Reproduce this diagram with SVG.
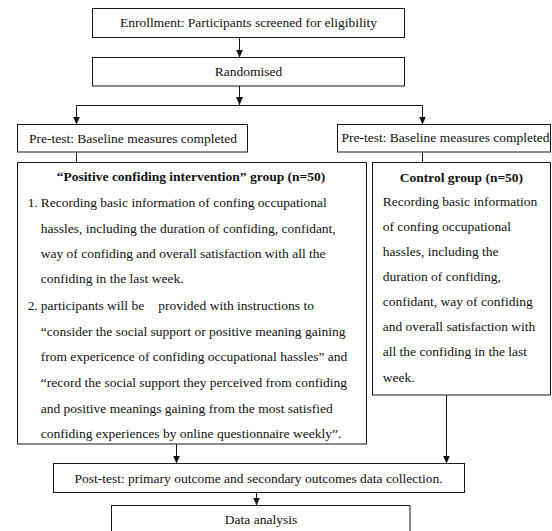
<svg xmlns="http://www.w3.org/2000/svg" width="552" height="531" viewBox="0 0 552 531">
  <style>
    .box { fill: #ffffff; stroke: #1a1a1a; stroke-width: 1; }
    .t { font-family: "Liberation Serif", "Times New Roman", serif; font-size: 13.5px; fill: #111111; }
    .b { font-weight: bold; }
    .c { text-anchor: middle; }
    .conn { fill: none; stroke: #1a1a1a; stroke-width: 1; }
  </style>
  <defs>
    <marker id="arrow" markerUnits="userSpaceOnUse" markerWidth="8" markerHeight="8" refX="8" refY="3.5" orient="auto">
      <path d="M0,0 L8,3.5 L0,7 z" fill="#111111"/>
    </marker>
  </defs>
  <rect width="552" height="531" fill="#ffffff"/>

  <g id="connectors">
    <line class="conn" x1="239.5" y1="37.5" x2="239.5" y2="57.5" marker-end="url(#arrow)"/>
    <line class="conn" x1="239.5" y1="86" x2="239.5" y2="105" marker-end="url(#arrow)"/>
    <line class="conn" x1="76.5" y1="105.5" x2="422.5" y2="105.5"/>
    <line class="conn" x1="76.5" y1="105.5" x2="76.5" y2="124.5" marker-end="url(#arrow)"/>
    <line class="conn" x1="422.5" y1="105.5" x2="422.5" y2="124.5" marker-end="url(#arrow)"/>
    <line class="conn" x1="76.5" y1="152" x2="76.5" y2="162.5"/>
    <line class="conn" x1="422.5" y1="152" x2="422.5" y2="162.5"/>
    <line class="conn" x1="176.5" y1="444" x2="176.5" y2="463.5" marker-end="url(#arrow)"/>
    <line class="conn" x1="446.5" y1="395" x2="446.5" y2="463.5" marker-end="url(#arrow)"/>
    <line class="conn" x1="256.5" y1="492.5" x2="256.5" y2="505.5" marker-end="url(#arrow)"/>
  </g>

  <g id="enrollment">
    <rect class="box" x="92.5" y="8.5" width="312" height="29"/>
    <text class="t c" x="248.5" y="26.7">Enrollment: Participants screened for eligibility</text>
  </g>

  <g id="randomised">
    <rect class="box" x="92.5" y="57.5" width="312" height="28.5"/>
    <text class="t c" x="248.5" y="75.7">Randomised</text>
  </g>

  <g id="pretest-left">
    <rect class="box" x="17.5" y="124.5" width="230" height="27.5"/>
    <text class="t c" x="133" y="142.8">Pre-test: Baseline measures completed</text>
  </g>

  <g id="pretest-right">
    <rect class="box" x="337.5" y="124.5" width="213" height="27.5"/>
    <text class="t" x="341.5" y="142.3">Pre-test: Baseline measures completed</text>
  </g>

  <g id="intervention">
    <rect class="box" x="17.5" y="162.5" width="349" height="281.5"/>
    <text class="t b c" x="191" y="180.7">“Positive confiding intervention” group (n=50)</text>
    <text class="t" x="27.7" y="206.7">1.</text>
    <text class="t" x="40.7" y="206.7">Recording basic information of confing occupational</text>
    <text class="t" x="40.7" y="232.5">hassles, including the duration of confiding, confidant,</text>
    <text class="t" x="40.7" y="257.5">way of confiding and overall satisfaction with all the</text>
    <text class="t" x="40.7" y="282.7">confiding in the last week.</text>
    <text class="t" x="27.7" y="310">2.</text>
    <text class="t" x="40.7" y="310">participants will be<tspan x="158.3">provided with instructions to</tspan></text>
    <text class="t" x="40.7" y="335.7">“consider the social support or positive meaning gaining</text>
    <text class="t" x="40.7" y="361.3">from expericence of confiding occupational hassles”  and</text>
    <text class="t" x="40.7" y="387.1">“record the social support they perceived from confiding</text>
    <text class="t" x="40.7" y="412.8">and positive meanings gaining from the most satisfied</text>
    <text class="t" x="40.7" y="438.4">confiding experiences by online questionnaire weekly”.</text>
  </g>

  <g id="control">
    <rect class="box" x="372.5" y="162.5" width="178" height="232.5"/>
    <text class="t b c" x="461.4" y="181.5">Control group (n=50)</text>
    <text class="t" x="382.7" y="205.5">Recording basic information</text>
    <text class="t" x="382.7" y="230.5">of confing occupational</text>
    <text class="t" x="382.7" y="255.7">hassles, including the</text>
    <text class="t" x="382.7" y="280.7">duration of confiding,</text>
    <text class="t" x="382.7" y="306">confidant, way of confiding</text>
    <text class="t" x="382.7" y="331">and overall satisfaction with</text>
    <text class="t" x="382.7" y="356.3">all the confiding in the last</text>
    <text class="t" x="382.7" y="381.5">week.</text>
  </g>

  <g id="posttest">
    <rect class="box" x="53.5" y="463.5" width="411" height="29"/>
    <text class="t c" x="258.5" y="483.3">Post-test: primary outcome and secondary outcomes data collection.</text>
  </g>

  <g id="analysis">
    <rect class="box" x="111.5" y="505.5" width="298.5" height="40"/>
    <text class="t c" x="261" y="523.5">Data analysis</text>
  </g>
</svg>
